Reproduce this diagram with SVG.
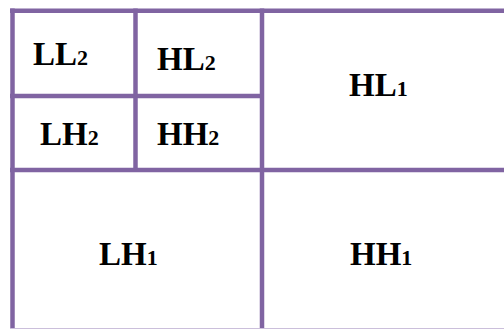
<svg xmlns="http://www.w3.org/2000/svg" width="504" height="329" viewBox="0 0 504 329">
<style>
.grid line { stroke: #8064A2; stroke-width: 4.5; fill: none; }
.lbl { font-family: "Liberation Serif", "Times New Roman", serif; font-weight: bold; font-size: 33px; fill: #000; }
.sub { font-size: 22px; }
</style>
<rect width="504" height="329" fill="#fff"/>
<g id="connectors" class="grid">
<line x1="10" y1="10.8" x2="504" y2="10.8"/>
<line x1="12.5" y1="8.5" x2="12.5" y2="329"/>
<line x1="135.5" y1="8.5" x2="135.5" y2="172"/>
<line x1="262" y1="8.5" x2="262" y2="329"/>
<line x1="10" y1="96" x2="262" y2="96"/>
<line x1="10" y1="170" x2="504" y2="170"/>
<line x1="10" y1="328.5" x2="504" y2="328.5" style="stroke:#cbbfdb;stroke-width:1"/>
</g>
<g id="LL2"><text class="lbl" x="33" y="65">LL<tspan class="sub">2</tspan></text></g>
<g id="HL2"><text class="lbl" x="157" y="70">HL<tspan class="sub">2</tspan></text></g>
<g id="LH2"><text class="lbl" x="40" y="145">LH<tspan class="sub">2</tspan></text></g>
<g id="HH2"><text class="lbl" x="157" y="145">HH<tspan class="sub">2</tspan></text></g>
<g id="HL1"><text class="lbl" x="349" y="96">HL<tspan class="sub">1</tspan></text></g>
<g id="LH1"><text class="lbl" x="99" y="265">LH<tspan class="sub">1</tspan></text></g>
<g id="HH1"><text class="lbl" x="350" y="265">HH<tspan class="sub">1</tspan></text></g>
</svg>
